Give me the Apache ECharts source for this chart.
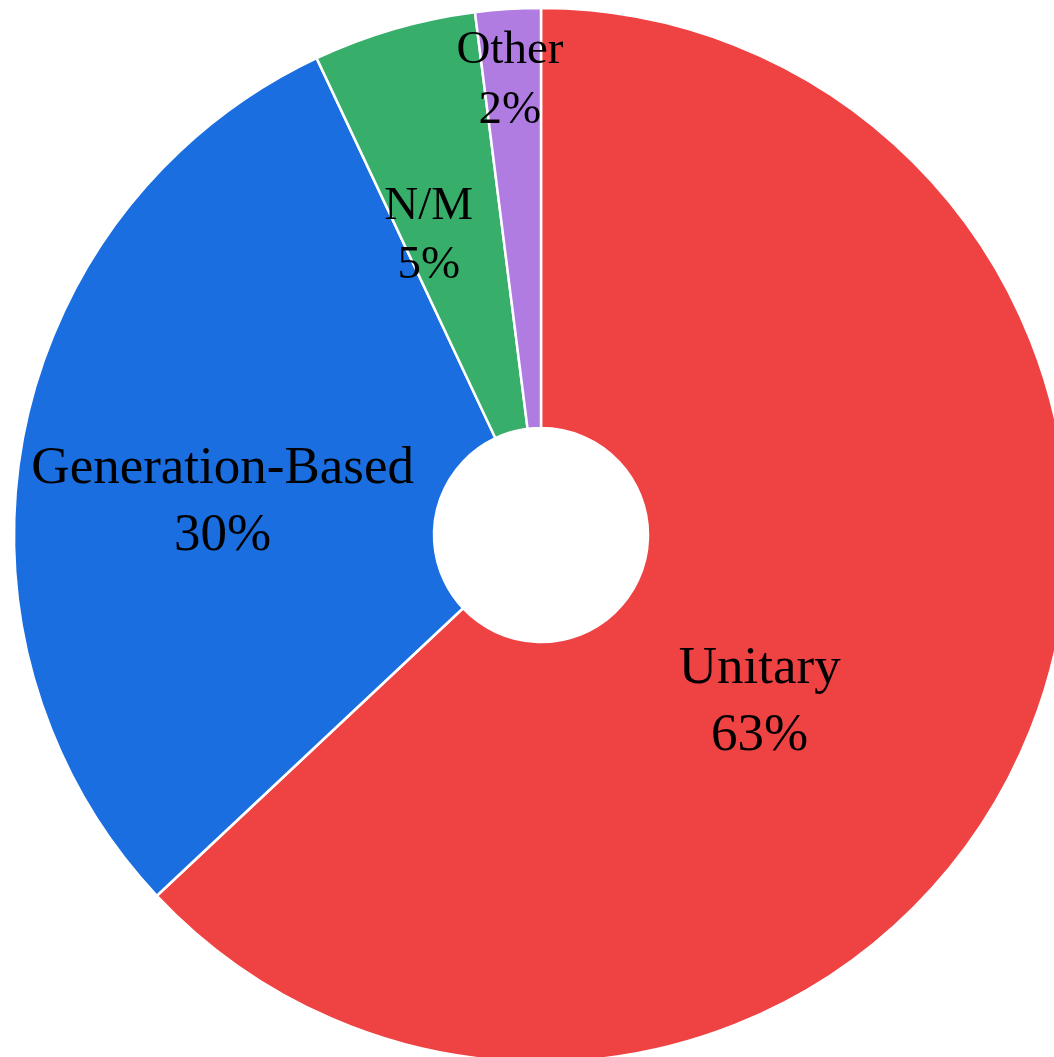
<!DOCTYPE html>
<html>
<head>
    <meta charset="UTF-8">
    <script type="text/javascript" src="https://cdn.jsdelivr.net/npm/echarts@6/dist/echarts.min.js"></script>
    <style type="text/css">
        *{
            margin: 0;
            padding: 0;
        }
        #main{
            width: 1054px;
            height: 1057px;
            background: #fff;
        }
    </style>
</head>
<body>
<div id="main"></div>
<script type="text/javascript">
    // data
    var categories = ['Unitary', 'Generation-Based', 'N/M', 'Other'];
    var shares = [63, 30, 5, 2];

    // styling
    var colors = ['#EF4243', '#1A6EE0', '#38AE6B', '#B07CE1'];
    var labelSize = [53, 53, 47, 47];
    var labelLine = [67, 67, 59, 60];
    // nudge labels away from the mid-ring spot (like the original)
    var labelShift = [[-75, 40], [-4, 28], [-23, 8], [-11, -135]];

    var myChart = echarts.init(document.getElementById('main'), null, {renderer: 'canvas'});

    var pieData = categories.map(function (name, i) {
        return {
            name: name,
            value: shares[i],
            itemStyle: {color: colors[i]},
            label: {fontSize: labelSize[i], lineHeight: labelLine[i]}
        };
    });

    var option = {
        animation: false,
        backgroundColor: '#fff',
        series: [
            {
                type: 'pie',
                center: [541, 535],
                radius: [107, 527],
                startAngle: 90,
                clockwise: true,
                avoidLabelOverlap: false,
                itemStyle: {
                    borderColor: '#fff',
                    borderWidth: 2.5
                },
                label: {
                    show: true,
                    position: 'inside',
                    color: '#000',
                    fontFamily: '"Liberation Serif", "Times New Roman", serif',
                    formatter: function (p) {
                        return p.name + '\n' + Math.round(p.percent) + '%';
                    }
                },
                labelLine: {show: false},
                labelLayout: function (params) {
                    var s = labelShift[params.dataIndex];
                    return {dx: s[0], dy: s[1]};
                },
                data: pieData
            }
        ]
    };
    myChart.setOption(option);
</script>
</body>
</html>
